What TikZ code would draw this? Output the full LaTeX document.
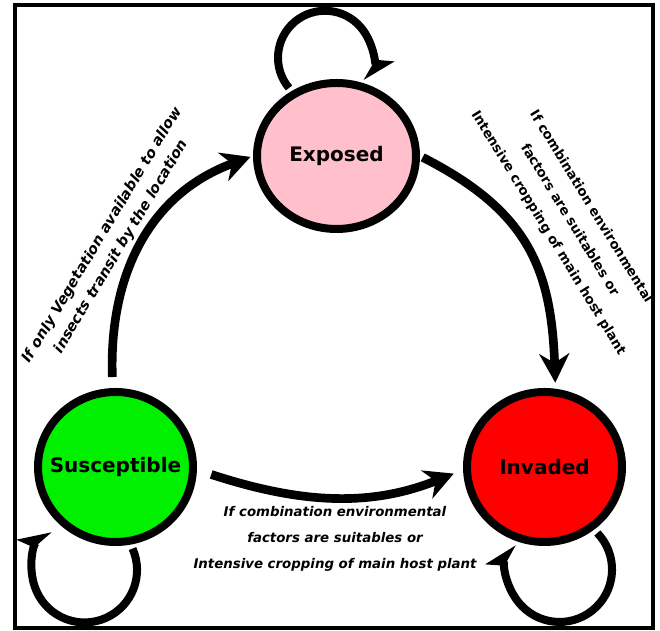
\documentclass[tikz,border=0pt]{standalone}
\usepackage{fontspec}
\setmainfont{DejaVu Sans}[BoldFont={DejaVu Sans Bold},ItalicFont={DejaVu Sans Oblique},BoldItalicFont={DejaVu Sans Bold Oblique}]
\usetikzlibrary{arrows.meta,shapes.geometric,calc}
\definecolor{expink}{RGB}{255,192,203}
\definecolor{susgreen}{RGB}{0,240,0}
\definecolor{invred}{RGB}{255,0,0}
\begin{document}
\begin{tikzpicture}[x=0.75pt,y=0.75pt,
  state/.style={ellipse, draw=black, line width=6pt, inner sep=0pt},
  statetext/.style={font=\bfseries\fontsize{15}{18}\selectfont, text=black},
  flow/.style={line width=6.5pt, -{Stealth[length=21.75pt,width=22.5pt,inset=7pt]}},
  loopline/.style={line width=6pt, -{Stealth[harpoon,length=20pt,width=22pt,inset=5pt]}},
  lbl/.style={align=center, inner sep=0pt, text=black}]
\fill[white] (0,0) rectangle (660,631);
\useasboundingbox (0,0) rectangle (660,631);
\draw[line width=3pt] (14.5,626) rectangle (653,2.5);

\node[state, fill=expink, minimum width=119.25pt, minimum height=109.5pt] (E) at (336.5,475) {};
\node[statetext] (Et) at (E.center) {Exposed};
\node[state, fill=susgreen, minimum width=116.25pt, minimum height=112.5pt] (S) at (115.5,164) {};
\node[statetext] (St) at (S.center) {Susceptible};
\node[state, fill=invred, minimum width=116.25pt, minimum height=112.5pt] (I) at (544.5,164) {};
\node[statetext] (It) at (I.center) {Invaded};

\draw[flow, shorten <=8.25pt, shorten >=2pt] (S.92) to[out=92,in=200,looseness=1.05] (E.west);
\draw[flow, shorten <=2.25pt, shorten >=4.5pt] (E.east) to[out=-27,in=92,looseness=1.15] (I.82);
\draw[flow, shorten <=11.25pt, shorten >=7.5pt] (S.-2) to[out=-18,in=202] (I.182);

\draw[loopline] ([shift={(-47.5,68)}]E.center) arc[start angle=220,end angle=-30,radius=35.25pt];
\draw[loopline] ([shift={(17,-81.6)}]S.center) arc[start angle=24,end angle=-229,radius=39.375pt];
\draw[loopline] ([shift={(52.8,-66)}]I.center) arc[start angle=44,end angle=-209,radius=39.375pt];

\node[lbl, rotate=59, font=\bfseries\itshape\fontsize{10.9}{16.5}\selectfont] (Lleft) at (112,390) {If only Vegetation available to allow\\insects transit by the location};
\node[lbl, rotate=-58.5, font=\bfseries\fontsize{10}{18.75}\selectfont] (Lright) at (569.5,411) {If combination environmental\\factors are suitables or\\Intensive cropping of main host plant};
\node[lbl, font=\bfseries\itshape\fontsize{10}{19.5}\selectfont] (Lbottom) at (335,92) {If combination environmental\\factors are suitables or\\Intensive cropping of main host plant};
\end{tikzpicture}
\end{document}
